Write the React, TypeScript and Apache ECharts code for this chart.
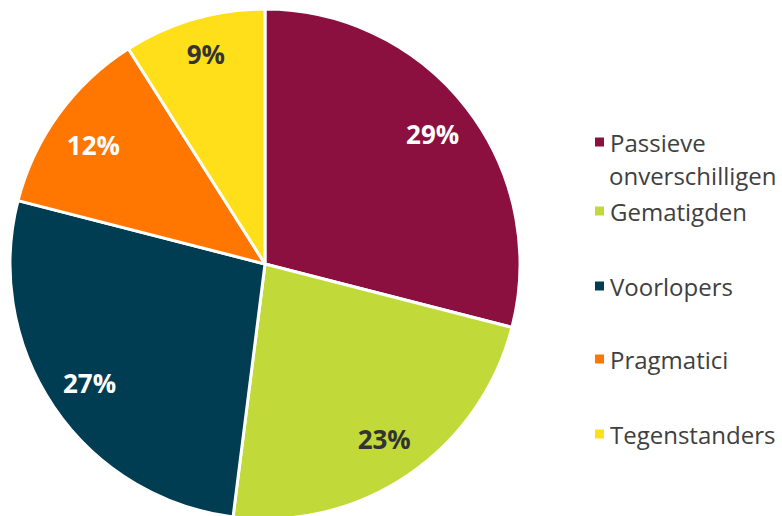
import React, { useEffect, useRef } from "react";
import * as echarts from "echarts";

const categories = ["Passieve onverschilligen", "Gematigden", "Voorlopers", "Pragmatici", "Tegenstanders"];
const values = [29, 23, 27, 12, 9];
const colors = ["#8B0F3F", "#C1DA3A", "#003D52", "#FF7700", "#FEDF1A"];
const labelColors = ["#FFFFFF", "#333333", "#FFFFFF", "#FFFFFF", "#333333"];
const legendTops = [130, 199, 274, 347, 422];

export default function App() {
  const ref = useRef<HTMLDivElement>(null);
  useEffect(() => {
    document.body.style.margin = "0";
    const chart = echarts.init(ref.current!, null, { renderer: "svg" });
    const font = "Open Sans";
    const R = 255;
    const center = [265, 264];
    const data = categories.map((name, i) => ({
      name,
      value: values[i],
      itemStyle: { color: colors[i] },
    }));
    const labelData = categories.map((name, i) => ({
      name,
      value: values[i],
      itemStyle: { color: "rgba(0,0,0,0)" },
      label: {
        color: labelColors[i],
        formatter: i === 4 ? "{c}%\n{s|}" : i === 3 ? "{s|}\n{c}%" : "{c}%",
      },
    }));
    chart.setOption({
      animation: false,
      legend: categories.map((name, i) => ({
        data: [name],
        left: 593,
        top: legendTops[i],
        padding: 0,
        orient: "vertical",
        icon: "rect",
        itemWidth: 11,
        itemHeight: 11,
        selectedMode: false,
        formatter: (n: string) => (i === 0 ? "Passieve" : n),
        textStyle: { fontFamily: font, fontSize: 24, color: "#404040", lineHeight: 24 },
      })),
      graphic: [
        {
          type: "text",
          x: 609,
          y: 175,
          style: {
            text: "onverschilligen",
            font: `24px "${font}"`,
            fill: "#404040",
            verticalAlign: "middle",
          },
        },
      ],
      series: [
        {
          type: "pie",
          center,
          radius: [0, R],
          startAngle: 90,
          clockwise: true,
          data,
          label: { show: false },
          labelLine: { show: false },
          itemStyle: { borderColor: "#FFFFFF", borderWidth: 3 },
          silent: true,
        },
        {
          type: "pie",
          center,
          radius: [R * 0.64, R],
          startAngle: 90,
          clockwise: true,
          data: labelData,
          silent: true,
          itemStyle: { borderWidth: 0 },
          label: {
            show: true,
            position: "inside",
            fontFamily: font,
            fontWeight: "bold",
            fontSize: 26,
            lineHeight: 30,
            rich: { s: { height: 12, lineHeight: 12, fontSize: 1 } },
          },
          labelLine: { show: false },
        },
      ],
    });
    return () => chart.dispose();
  }, []);
  return <div ref={ref} style={{ width: 782, height: 516 }} />;
}
